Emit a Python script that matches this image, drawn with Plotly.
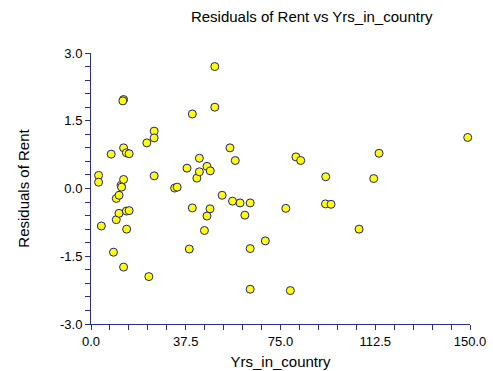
import plotly.graph_objects as go

# Years in country and the residuals of Rent at each observation
yrs_in_country = [
    3.0, 3.0, 4.1, 8.0, 8.9, 10.0, 11.1, 10.0, 11.1, 11.9, 12.1, 12.9, 12.9, 12.6,
    12.9, 14.0, 15.1, 14.0, 15.1, 14.1, 12.9, 22.1, 25.0, 25.0, 25.0, 22.9,
    38.0, 40.1, 40.1, 38.9, 33.1, 34.1, 41.9, 42.9, 42.9, 45.9, 47.2, 47.1,
    45.9, 44.9, 49.0, 49.0, 51.9, 56.0, 55.0, 57.1, 59.0, 63.0, 60.9, 63.0,
    63.0, 69.0, 77.1, 78.9, 81.1, 83.0, 92.9, 92.8, 95.0, 106.1, 111.9, 114.0,
    149.1,
]
rent_residuals = [
    0.29, 0.14, -0.83, 0.76, -1.41, -0.22, -0.15, -0.69, -0.55, 0.07, 0.03, 0.20, 1.97, 1.94,
    0.90, 0.79, 0.77, -0.50, -0.49, -0.90, -1.74, 1.01, 1.27, 1.12, 0.28, -1.95,
    0.45, 1.65, -0.43, -1.34, 0.01, 0.03, 0.23, 0.67, 0.37, 0.49, 0.39, -0.45,
    -0.61, -0.93, 2.70, 1.80, -0.15, -0.28, 0.90, 0.62, -0.32, -0.32, -0.59, -1.33,
    -2.23, -1.16, -0.44, -2.26, 0.70, 0.62, 0.26, -0.34, -0.35, -0.90, 0.22, 0.78,
    1.13,
]

x_tick_vals = [0.0, 37.5, 75.0, 112.5, 150.0]
x_tick_text = ["0.0", "37.5", "75.0", "112.5", "150.0"]
y_tick_vals = [-3.0, -1.5, 0.0, 1.5, 3.0]
y_tick_text = ["-3.0", "-1.5", "0.0", "1.5", "3.0"]

AXIS = "#2c2c96"
FONT = "Liberation Sans, Arial, sans-serif"

fig = go.Figure(
    go.Scatter(
        x=yrs_in_country,
        y=rent_residuals,
        mode="markers",
        marker=dict(size=8, color="#ffff00", line=dict(color="#1e1e8a", width=1)),
        cliponaxis=False,
        hoverinfo="x+y",
    )
)

W, H = 493, 371
L, R, T, B = 91, 23, 53, 47

fig.update_layout(
    width=W,
    height=H,
    autosize=False,
    margin=dict(l=L, r=R, t=T, b=B, pad=0),
    paper_bgcolor="white",
    plot_bgcolor="white",
    showlegend=False,
    font=dict(family=FONT, color="black", size=12),
    title=dict(
        text="Residuals of Rent vs Yrs_in_country",
        font=dict(family=FONT, size=15, color="black"),
        x=287 / W,
        xanchor="center",
        xref="paper",
        y=1 - 17 / H,
        yanchor="middle",
        yref="container",
    ),
)

fig.update_xaxes(
    range=[0, 150],
    automargin=False,
    tickmode="array",
    tickvals=x_tick_vals,
    ticktext=x_tick_text,
    ticks="outside",
    ticklen=5,
    tickcolor=AXIS,
    tickwidth=1,
    minor=dict(dtick=7.5, ticks="outside", ticklen=5, tickcolor=AXIS, tickwidth=1),
    showline=True,
    linecolor=AXIS,
    linewidth=1,
    showgrid=False,
    zeroline=False,
    tickfont=dict(family=FONT, size=13, color="black"),
    title=dict(text="Yrs_in_country", font=dict(family=FONT, size=15, color="black"), standoff=8),
)
fig.update_yaxes(
    range=[-3, 3],
    automargin=False,
    tickmode="array",
    tickvals=y_tick_vals,
    ticktext=y_tick_text,
    ticks="outside",
    ticklen=5,
    tickcolor=AXIS,
    tickwidth=1,
    minor=dict(dtick=0.3, tick0=0, ticks="outside", ticklen=5, tickcolor=AXIS, tickwidth=1),
    showline=True,
    linecolor=AXIS,
    linewidth=1,
    showgrid=False,
    zeroline=False,
    tickfont=dict(family=FONT, size=13, color="black"),
    title=dict(text="Residuals of Rent", font=dict(family=FONT, size=15, color="black"), standoff=26),
)

fig.write_html("out.html")
